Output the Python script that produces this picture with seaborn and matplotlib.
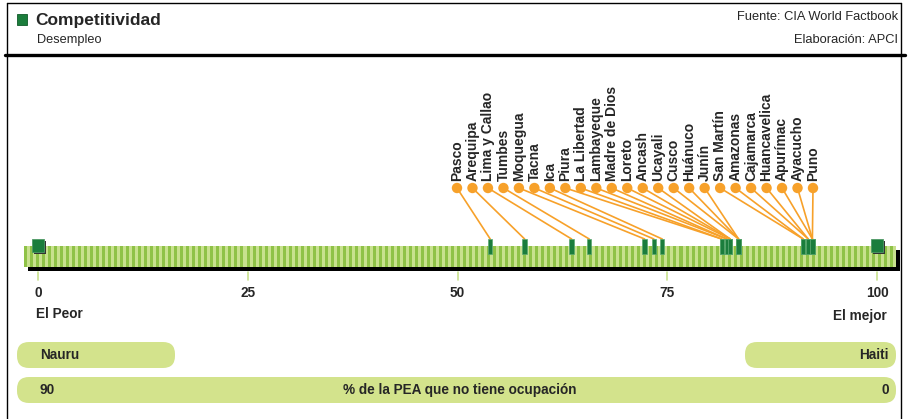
import numpy as np
import pandas as pd
import matplotlib
matplotlib.use("Agg")
import matplotlib.pyplot as plt
from matplotlib.patches import FancyBboxPatch, Rectangle
import seaborn as sns

# ── data ────────────────────────────────────────────────────────
REGIONS = [
    "Pasco", "Arequipa", "Lima y Callao", "Tumbes", "Moquegua", "Tacna",
    "Ica", "Piura", "La Libertad", "Lambayeque", "Madre de Dios", "Loreto",
    "Ancash", "Ucayali", "Cusco", "Huánuco", "Junín", "San Martín",
    "Amazonas", "Cajamarca", "Huancavelica", "Apurímac", "Ayacucho", "Puno",
]
SCORES = [
    53.9, 58.0, 63.6, 65.7, 72.3, 73.4,
    74.4, 81.5, 81.5, 82.1, 82.1, 82.5,
    82.5, 82.5, 83.5, 83.5, 83.5, 91.2,
    91.2, 91.8, 91.8, 92.3, 92.3, 92.3,
]
ENDPOINTS = [0, 100]
TICKS = [0, 25, 50, 75, 100]
WORST_COUNTRY, BEST_COUNTRY = "Nauru", "Haiti"
WORST_VALUE, BEST_VALUE = "90", "0"

TITLE = "Competitividad"
SUBTITLE = "Desempleo"
SOURCE = "Fuente: CIA World Factbook"
CREDIT = "Elaboración: APCI"
METRIC = "% de la PEA que no tiene ocupación"

# ── style ───────────────────────────────────────────────────────
DARK_GREEN = "#1b7d3c"
ORANGE = "#f7a12a"
STRIPE_DARK = "#8fc247"
STRIPE_LIGHT = "#c8e18e"
PILL = "#d3e38c"

sns.set_theme(style="white")
plt.rcParams["font.family"] = ["Liberation Sans Narrow", "Liberation Sans", "DejaVu Sans"]
NARROW = ["Liberation Sans Narrow", "Liberation Sans"]
WIDE = ["Liberation Sans", "DejaVu Sans"]

W, H = 909, 419
fig = plt.figure(figsize=(W / 100, H / 100), dpi=100)

def Y(p):
    return H - p

# background axes in pixel units (frame, header, pills)
bg = fig.add_axes([0, 0, 1, 1])
bg.set_xlim(0, W)
bg.set_ylim(0, H)
bg.axis("off")

bg.plot([7, 7], [Y(3), Y(419)], color="black", lw=1)
bg.plot([7, 901], [Y(3), Y(3)], color="black", lw=1)
bg.plot([901, 901], [Y(3), Y(419)], color="black", lw=1)
bg.plot([5, 905], [Y(55), Y(55)], color="black", lw=2.4)

bg.add_patch(Rectangle((17, Y(25)), 10, 11, facecolor=DARK_GREEN, edgecolor="#0f5a28", lw=0.6))
bg.text(35, Y(21), TITLE, fontsize=12.5, fontweight="bold", family=WIDE, va="center", ha="left")
bg.text(37, Y(40), SUBTITLE, fontsize=9.2, family=WIDE, va="center", ha="left")
bg.text(898, Y(17), SOURCE, fontsize=9.3, family=WIDE, va="center", ha="right")
bg.text(898, Y(40), CREDIT, fontsize=9.3, family=WIDE, va="center", ha="right")

def pill(x0, x1, y0, y1):
    bg.add_patch(FancyBboxPatch((x0, Y(y1)), x1 - x0, y1 - y0,
                                boxstyle="round,pad=0,rounding_size=12",
                                facecolor=PILL, edgecolor="none"))

pill(17, 175, 342, 368)
pill(745, 896, 342, 368)
pill(17, 896, 377, 403)
txt = dict(fontsize=9.8, fontweight="bold", family=NARROW, va="center")
bg.text(40, Y(355), WORST_COUNTRY, ha="left", **txt)
bg.text(889, Y(355), BEST_COUNTRY, ha="right", **txt)
bg.text(40, Y(390), WORST_VALUE, ha="left", **txt)
bg.text(460, Y(390), METRIC, ha="center", **txt)
bg.text(889, Y(390), BEST_VALUE, ha="right", **txt)

# strip shadow (pixel units)
bg.add_patch(Rectangle((28, Y(271)), 872, 5, facecolor="black", edgecolor="none"))
bg.add_patch(Rectangle((895, Y(271)), 5, 21, facecolor="black", edgecolor="none"))

# ── main axes: x in score units, y in pixel rows ───────────────
px0, px100 = 38, 877
k = (px100 - px0) / 100
xmin = (24 - px0) / k
xmax = (896 - px0) / k
ax = fig.add_axes([24 / W, 0, (896 - 24) / W, 1])
ax.set_xlim(xmin, xmax)
ax.set_ylim(0, H)
ax.axis("off")
ax.patch.set_alpha(0)

# striped strip
n_stripes = 290
stripes = (np.arange(n_stripes) % 2)[None, :]
cmap = matplotlib.colors.ListedColormap([STRIPE_DARK, STRIPE_LIGHT])
ax.imshow(stripes, cmap=cmap, aspect="auto", interpolation="nearest",
          extent=[xmin, xmax, Y(267), Y(246)], zorder=1)

# end squares with shadow
sq_w = 12 / k
for v in ENDPOINTS:
    ax.add_patch(Rectangle((v - sq_w / 2 + 2 / k, Y(254)), sq_w, 13,
                           facecolor="#333333", edgecolor="none", zorder=3))
    ax.add_patch(Rectangle((v - sq_w / 2, Y(252)), sq_w, 13,
                           facecolor=DARK_GREEN, edgecolor="#4f9a66", lw=0.6, zorder=4))

# region markers on the strip
ax.bar(SCORES, 15, width=4.5 / k, bottom=Y(254), color=DARK_GREEN,
       edgecolor="#5aa870", linewidth=0.5, zorder=5)

# label anchors, evenly spread
lab_x = np.linspace((457 - px0) / k, (813 - px0) / k, len(REGIONS))
df = pd.DataFrame({"region": REGIONS, "score": SCORES, "lab_x": lab_x})
dot_y = Y(188)
for _, r in df.iterrows():
    ax.plot([r.lab_x, r.score], [dot_y, Y(239)], color=ORANGE, lw=1.2,
            zorder=2, solid_capstyle="round")
sns.scatterplot(data=df.assign(y=dot_y), x="lab_x", y="y", ax=ax, s=56,
                color=ORANGE, edgecolor="none", zorder=6, legend=False)
for _, r in df.iterrows():
    ax.text(r.lab_x, Y(181), r.region, rotation=90, ha="center", va="bottom",
            fontsize=10.0, fontweight="bold", family=NARROW, zorder=6)

# scale ticks and labels
for t in TICKS:
    ax.plot([t, t], [Y(272), Y(280)], color=STRIPE_LIGHT, lw=1.2)
    ax.text(t, Y(293), str(t), ha="center", va="center", fontsize=9.8,
            fontweight="bold", family=NARROW)
ax.text(-0.25, Y(314), "El Peor", ha="left", va="center", fontsize=9.8,
        fontweight="bold", family=NARROW)
ax.text(101.2, Y(316), "El mejor", ha="right", va="center", fontsize=9.8,
        fontweight="bold", family=NARROW)

fig.savefig("out.png", dpi=100)
